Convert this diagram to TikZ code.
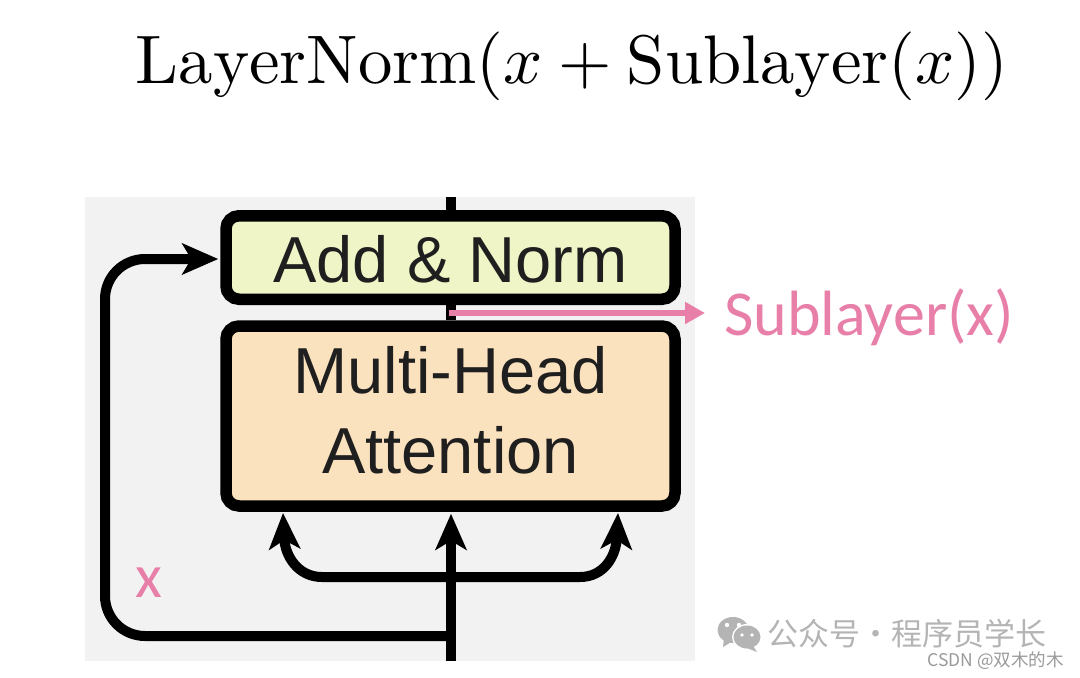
\documentclass[tikz,border=0pt]{standalone}
\usepackage{fontspec}
\setmainfont{Latin Modern Roman}
\newfontfamily\boxfont{Liberation Sans}
\newfontfamily\pinkfont{Carlito}
\newfontfamily\cjkfont{Noto Sans CJK SC}
\usetikzlibrary{arrows.meta,calc}
\definecolor{panelgray}{HTML}{F2F2F2}
\definecolor{addfill}{HTML}{EFF5C6}
\definecolor{attfill}{HTML}{FBE2BE}
\definecolor{pinkc}{HTML}{E87FA8}
\definecolor{wmgray}{HTML}{B4B4B4}
\definecolor{csdngray}{HTML}{9A9A9A}
\tikzset{
  blockbox/.style={draw=black,line width=11.5pt,rounded corners=13pt,inner sep=0pt,align=center,text=black!88},
  flow/.style={draw=black,line width=10pt},
  flowtip/.style={-{Stealth[length=36pt,width=31pt,inset=9pt]}},
  pinkarrow/.style={draw=pinkc,line width=6.5pt,-{Triangle[length=20pt,width=21pt]}}
}
\begin{document}
\begin{tikzpicture}[x=1pt,y=-1pt]
\useasboundingbox (0,0) rectangle (1080,678);
\fill[white] (0,0) rectangle (1080,678);
\fill[panelgray] (85,197) rectangle (695,661);

\node[anchor=base,scale=6.87] (title) at (572,83) {$\mathrm{LayerNorm}(x+\mathrm{Sublayer}(x))$};

\coordinate (topend) at (451,197);
\coordinate (botend) at (451,661);
\coordinate (branch) at (451,636);
\coordinate (fork) at (451,577);
\coordinate (pinkstart) at (449,313);
\coordinate (pinkend) at (705,313);

\node[blockbox,fill=addfill,minimum width=449pt,minimum height=83.5pt,text height=49pt,text depth=0pt,font=\boxfont\fontsize{65}{80}\selectfont] (add) at (450.5,257.5) {Add \& Norm};
\node[blockbox,fill=attfill,minimum width=449pt,minimum height=180pt,font=\boxfont\fontsize{65}{80}\selectfont] (att) at (450.5,416) {Multi-Head\\Attention\rule[-13pt]{0pt}{13pt}};

\draw[flow] (topend) -- (add.north -| topend);
\draw[flow] (add.south -| topend) -- (att.north -| topend);
\draw[flow,flowtip] (botend) -- ($(att.south -| botend)+(0,2)$);
\draw[flow,flowtip,rounded corners=40pt] (branch) -- (105,636) -- (105,259) -- ($(add.west |- 0,259)+(-2,0)$);
\draw[flow,flowtip] (fork) -- (322,577) .. controls (298,577) and (285,556) .. (283,513);
\draw[flow,flowtip] (fork) -- (580,577) .. controls (604,577) and (616,556) .. (618,513);

\node[anchor=base west,inner sep=0pt,text=pinkc,font=\pinkfont\fontsize{64}{70}\selectfont] (sub) at (724,335) {Sublayer(x)};
\draw[pinkarrow] (pinkstart) -- (pinkend);
\node[anchor=base,inner sep=0pt,text=pinkc,font=\pinkfont\fontsize{62}{66}\selectfont] (xlabel) at (149,597) {x};

% watermark icon
\begin{scope}[wmgray]
\fill (733,630) ellipse (15.5pt and 13pt);
\fill (724,638) -- (723,647) -- (733,641) -- cycle;
\fill[white] (747,637) ellipse (15pt and 13pt);
\fill (747,637) ellipse (13.5pt and 11.5pt);
\fill (753,646) -- (757,652) -- (747,648) -- cycle;
\fill[white] (727,625) circle (2.2pt) (739,625) circle (2.2pt) (742,635) circle (1.8pt) (752,635) circle (1.8pt);
\end{scope}
\node[anchor=base west,inner sep=0pt,text=wmgray,font=\cjkfont\fontsize{31}{33}\selectfont] (wm) at (767,645) {公众号·程序员学长};
\node[anchor=base east,inner sep=0pt,text=csdngray,font=\cjkfont\fontsize{17.5}{19}\selectfont] (csdn) at (1064,666) {CSDN @双木的木};
\end{tikzpicture}
\end{document}
